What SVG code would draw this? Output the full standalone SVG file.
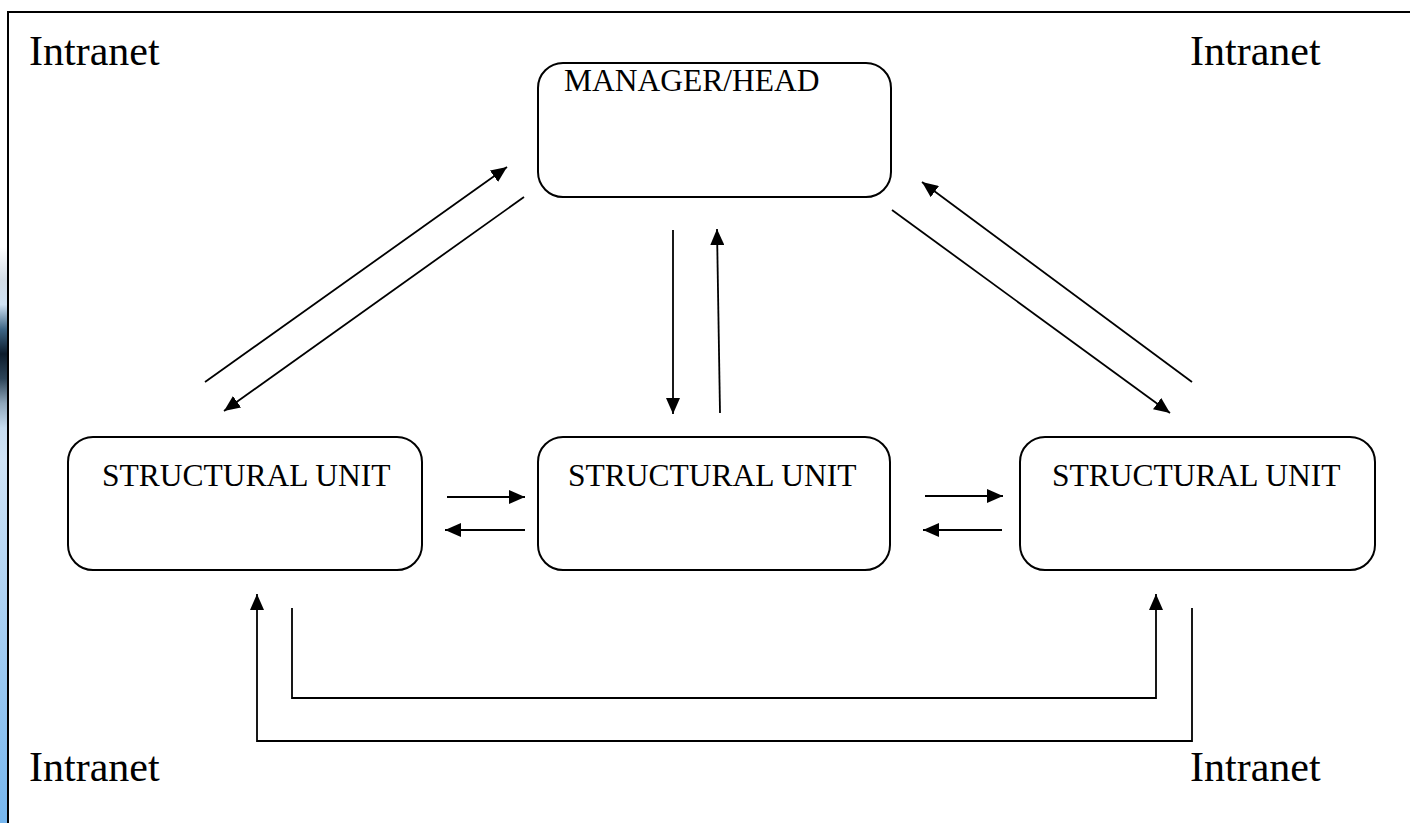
<svg xmlns="http://www.w3.org/2000/svg" width="1410" height="823" viewBox="0 0 1410 823">
<style>
.box{fill:#fff;stroke:#000;stroke-width:2}
.lbl{font-family:"Liberation Serif","Times New Roman",serif;font-size:31.5px;fill:#000}
.net{font-family:"Liberation Serif","Times New Roman",serif;font-size:42px;fill:#000}
.ln{fill:none;stroke:#000;stroke-width:1.8}
</style>
<defs>
<marker id="ah" viewBox="0 0 16 14" refX="16" refY="7" markerWidth="16" markerHeight="14" markerUnits="userSpaceOnUse" orient="auto">
<path d="M0,0 L16,7 L0,14 Z" fill="#000"/>
</marker>
<linearGradient id="strip" gradientUnits="userSpaceOnUse" x1="0" y1="0" x2="0" y2="823">
<stop offset="0" stop-color="#ffffff"/>
<stop offset="0.30" stop-color="#ffffff"/>
<stop offset="0.34" stop-color="#d4dde6"/>
<stop offset="0.37" stop-color="#cfe2f4"/>
<stop offset="0.40" stop-color="#3e6686"/>
<stop offset="0.43" stop-color="#0c1c2c"/>
<stop offset="0.46" stop-color="#2c4458"/>
<stop offset="0.49" stop-color="#8ea6ba"/>
<stop offset="0.52" stop-color="#c6dcf0"/>
<stop offset="0.56" stop-color="#cfe3f6"/>
<stop offset="1" stop-color="#76b6ee"/>
</linearGradient>
</defs>
<rect width="1410" height="823" fill="#fff"/>
<rect x="0" y="0" width="8" height="823" fill="url(#strip)"/>
<path d="M8,823 V12 H1410" fill="none" stroke="#000" stroke-width="2"/>

<text class="net" x="29" y="65">Intranet</text>
<text class="net" x="1190" y="65">Intranet</text>
<text class="net" x="29" y="781">Intranet</text>
<text class="net" x="1190" y="781">Intranet</text>

<g id="manager">
<rect class="box" x="538" y="63" width="353" height="134" rx="25"/>
<text class="lbl" x="564" y="91">MANAGER/HEAD</text>
</g>
<g id="unit-left">
<rect class="box" x="68" y="437" width="354" height="133" rx="25"/>
<text class="lbl" x="102" y="486">STRUCTURAL UNIT</text>
</g>
<g id="unit-middle">
<rect class="box" x="538" y="437" width="352" height="133" rx="25"/>
<text class="lbl" x="568" y="486">STRUCTURAL UNIT</text>
</g>
<g id="unit-right">
<rect class="box" x="1020" y="437" width="355" height="133" rx="25"/>
<text class="lbl" x="1052" y="486">STRUCTURAL UNIT</text>
</g>

<g id="connectors">
<line class="ln" x1="205" y1="382" x2="507" y2="167" marker-end="url(#ah)"/>
<line class="ln" x1="524" y1="197" x2="224" y2="411" marker-end="url(#ah)"/>
<line class="ln" x1="892" y1="210" x2="1170" y2="413" marker-end="url(#ah)"/>
<line class="ln" x1="1192" y1="382" x2="922" y2="182" marker-end="url(#ah)"/>
<line class="ln" x1="673" y1="230" x2="673" y2="414" marker-end="url(#ah)"/>
<line class="ln" x1="720" y1="413" x2="717" y2="229" marker-end="url(#ah)"/>
<line class="ln" x1="447" y1="497" x2="525" y2="497" marker-end="url(#ah)"/>
<line class="ln" x1="525" y1="530" x2="445" y2="530" marker-end="url(#ah)"/>
<line class="ln" x1="925" y1="496" x2="1003" y2="496" marker-end="url(#ah)"/>
<line class="ln" x1="1002" y1="530" x2="923" y2="530" marker-end="url(#ah)"/>
<path class="ln" d="M292,608 V698 H1156 V594" marker-end="url(#ah)"/>
<path class="ln" d="M1192,608 V741 H257 V594" marker-end="url(#ah)"/>
</g>
</svg>
